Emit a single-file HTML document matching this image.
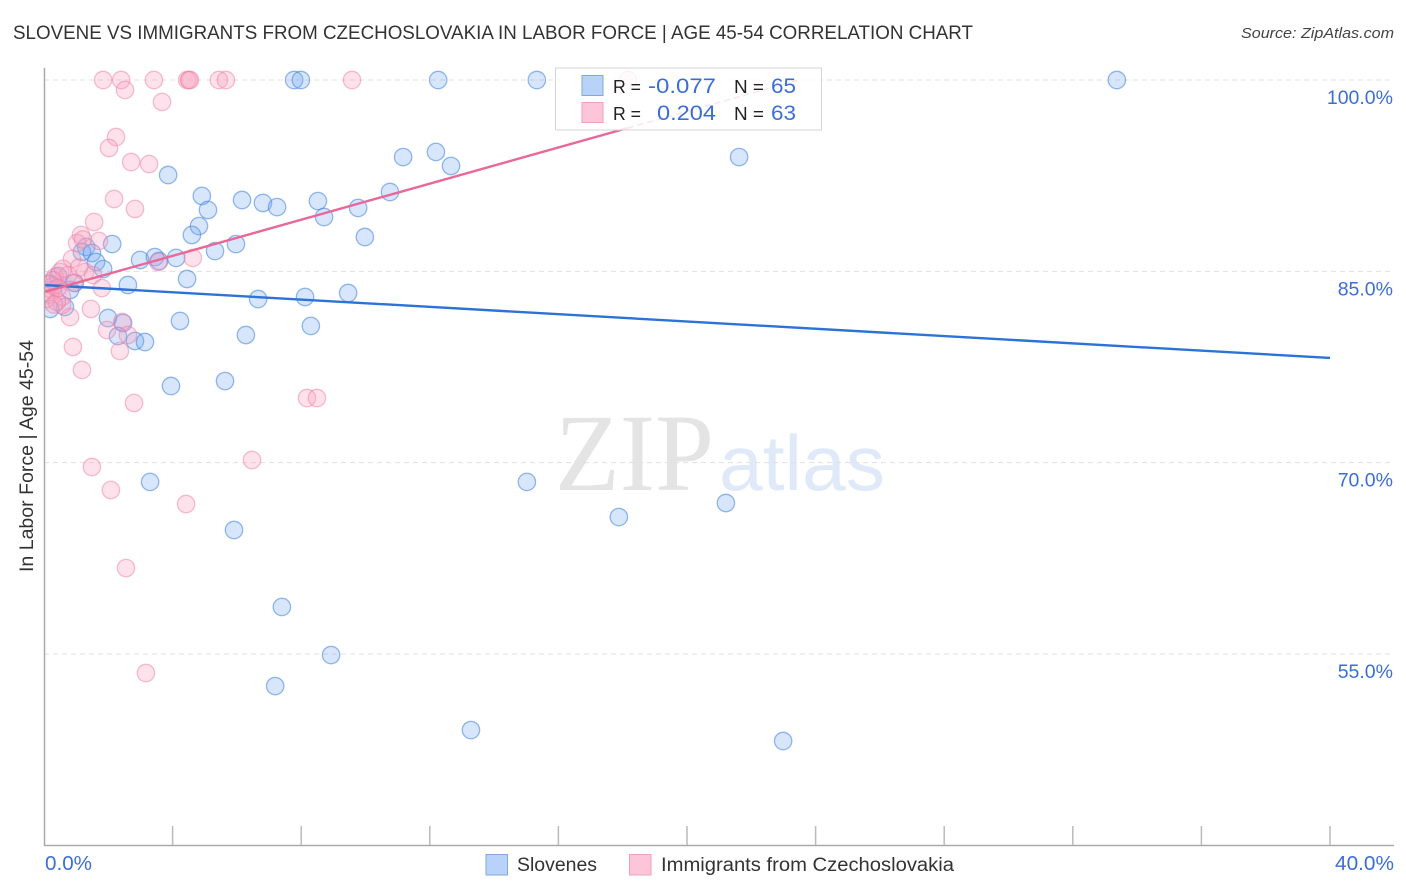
<!DOCTYPE html>
<html lang="en">
<head>
<meta charset="utf-8">
<title>Slovene vs Immigrants from Czechoslovakia in Labor Force | Age 45-54 Correlation Chart</title>
<style>
html,body{margin:0;padding:0;background:#fff;width:1406px;height:892px;overflow:hidden}
svg{display:block}
text{font-family:"Liberation Sans",sans-serif}
</style>
</head>
<body>
<svg id="chart" xmlns="http://www.w3.org/2000/svg" width="1406" height="892" viewBox="0 0 1406 892">
  <defs>
    <clipPath id="plot-clip"><rect x="44" y="60" width="1350" height="786"/></clipPath>
  </defs>
  <text x="13" y="39" font-size="19" fill="#333" textLength="960" lengthAdjust="spacingAndGlyphs">SLOVENE VS IMMIGRANTS FROM CZECHOSLOVAKIA IN LABOR FORCE | AGE 45-54 CORRELATION CHART</text>
  <text x="1241" y="38" font-size="15" font-style="italic" fill="#444" textLength="153" lengthAdjust="spacingAndGlyphs">Source: ZipAtlas.com</text>

  <g>
    <text x="555" y="490" font-size="110" fill="#e4e4e4" style="font-family:'Liberation Serif',serif" textLength="159" lengthAdjust="spacingAndGlyphs">ZIP</text>
    <text x="719" y="490" font-size="78" fill="#dfe9f8" textLength="166" lengthAdjust="spacingAndGlyphs">atlas</text>
  </g>

  <g id="grid"></g>
  <g id="points" clip-path="url(#plot-clip)"></g>
  <g id="lines" clip-path="url(#plot-clip)"></g>

  <line x1="44.5" y1="68" x2="44.5" y2="846" stroke="#aaa" stroke-width="1.5"/>
  <line x1="44" y1="845.5" x2="1394" y2="845.5" stroke="#aaa" stroke-width="1.5"/>
  <g id="xticks"></g>
  <g id="ylabels"></g>

  <text x="45" y="870" font-size="20" fill="#3b6fd4" textLength="47" lengthAdjust="spacingAndGlyphs">0.0%</text>
  <text x="1335" y="870" font-size="20" fill="#3b6fd4" textLength="59" lengthAdjust="spacingAndGlyphs">40.0%</text>
  <text transform="translate(33,572) rotate(-90)" x="0" y="0" font-size="19" fill="#333" textLength="232" lengthAdjust="spacingAndGlyphs">In Labor Force | Age 45-54</text>

  <g>
    <rect x="555.5" y="68" width="266" height="62" fill="#fff" fill-opacity="0.82" stroke="#d4d4d4" stroke-width="1"/>
    <rect x="582" y="75.5" width="21" height="20" fill="#b9d3f8" stroke="#7fa8e0" stroke-width="1"/>
    <rect x="582" y="102.5" width="21" height="20" fill="#fcc6d8" stroke="#eea0bb" stroke-width="1"/>
    <text x="613" y="93" font-size="18" fill="#222" textLength="28" lengthAdjust="spacingAndGlyphs">R =</text>
    <text x="648" y="93" font-size="21" fill="#3b6fd4" textLength="68" lengthAdjust="spacingAndGlyphs">-0.077</text>
    <text x="734" y="93" font-size="18" fill="#222" textLength="30" lengthAdjust="spacingAndGlyphs">N =</text>
    <text x="771" y="93" font-size="21" fill="#3b6fd4" textLength="25" lengthAdjust="spacingAndGlyphs">65</text>
    <text x="613" y="120" font-size="18" fill="#222" textLength="28" lengthAdjust="spacingAndGlyphs">R =</text>
    <text x="657" y="120" font-size="21" fill="#3b6fd4" textLength="59" lengthAdjust="spacingAndGlyphs">0.204</text>
    <text x="734" y="120" font-size="18" fill="#222" textLength="30" lengthAdjust="spacingAndGlyphs">N =</text>
    <text x="771" y="120" font-size="21" fill="#3b6fd4" textLength="25" lengthAdjust="spacingAndGlyphs">63</text>
  </g>

  <g>
    <rect x="486" y="854.5" width="21.5" height="20.5" fill="#b9d3f8" stroke="#7fa8e0" stroke-width="1"/>
    <text x="517" y="871" font-size="19" fill="#333" textLength="80" lengthAdjust="spacingAndGlyphs">Slovenes</text>
    <rect x="629.5" y="854.5" width="21.5" height="20.5" fill="#fcc6d8" stroke="#eea0bb" stroke-width="1"/>
    <text x="661" y="871" font-size="19" fill="#333" textLength="293" lengthAdjust="spacingAndGlyphs">Immigrants from Czechoslovakia</text>
  </g>
</svg>

<script>
// Axis ranges (percent)
const xDomain = [0, 40];
const yTicks = [100, 85, 70, 55];
const yTickLabels = ['100.0%', '85.0%', '70.0%', '55.0%'];
const xTicks = [4, 8, 12, 16, 20, 24, 28, 32, 36, 40];

// Slovenes: x = share of immigrants (%), y = in labor force (%)
const slovenesX = [7.78,7.99,12.26,15.33,33.37,12.19,11.17,12.66,21.62,3.86,10.76,4.91,6.16,6.81,7.25,8.52,5.10,9.77,8.71,4.82,4.60,9.98,5.97,2.12,1.31,1.18,1.49,1.62,1.84,5.32,2.99,3.45,3.58,4.11,4.45,2.61,0.96,0.81,6.66,8.12,9.46,8.30,4.23,1.99,2.46,6.28,2.30,2.83,3.14,3.95,5.63,3.30,15.02,17.88,21.21,5.91,7.40,8.93,7.19,13.28,22.99,0.65,0.19,0.44,0.19];
const slovenesY = [100,100,100,100,100,94.36,93.96,93.26,93.96,92.55,91.22,90.91,90.59,90.36,90.04,90.51,89.81,89.97,89.26,88.55,87.85,87.69,87.14,87.14,86.91,86.52,86.44,85.73,85.18,86.59,85.89,86.12,85.81,86.05,84.40,83.93,84.09,83.54,82.83,82.99,83.30,80.72,81.11,81.34,80.95,80.01,79.93,79.54,79.46,76.01,76.40,68.49,68.49,65.74,66.84,64.72,58.69,54.92,52.49,49.04,48.18,82.20,82.05,84.64,84.02];

// Immigrants from Czechoslovakia
const immigrantsX = [1.84,2.40,2.52,3.42,3.67,4.45,4.51,4.54,5.44,5.66,9.58,18.16,2.24,2.02,2.71,3.27,2.18,2.83,1.56,1.15,1.03,1.71,0.87,1.28,1.52,1.80,3.55,4.63,1.46,0.81,1.96,2.43,2.61,2.36,0.90,1.18,2.80,8.18,8.49,1.49,2.08,4.42,6.47,2.55,3.17,0.34,0.50,0.12,0.25,0.06,0.56,0.75,0.59,0.28,0.19,0.28,0.56,0.40,0.93,1.09,1.21,0.43,0.31];
const immigrantsY = [100,100,99.22,100,98.28,100,100,100,100,100,100,100,95.53,94.67,93.57,93.41,90.67,89.89,88.87,87.85,87.22,87.38,85.97,84.95,84.71,83.69,85.73,86.05,82.05,81.42,80.40,81.03,80.01,78.75,79.07,77.27,74.68,75.07,75.07,69.66,67.86,66.76,70.21,61.74,53.51,84.56,84.95,84.02,83.54,82.83,82.36,84.71,85.20,83.85,83.20,84.30,83.00,82.60,84.10,85.30,87.50,83.70,82.40];

// Trend lines: value at x=0, slope per x unit, last solid x, last dashed x
const slovenesTrend = [83.93, -0.143, 40];
const immigrantsTrend = [83.38, 0.708, 18.16, 23.47];

const NS = 'http://www.w3.org/2000/svg';
const xScale = v => 44 + (v - xDomain[0]) / (xDomain[1] - xDomain[0]) * 1286;
const yScale = v => 80 + (100 - v) * 12.756;

function node(tag, attrs, parent) {
  const el = document.createElementNS(NS, tag);
  for (const k in attrs) el.setAttribute(k, attrs[k]);
  parent.appendChild(el);
  return el;
}

const gridG = document.getElementById('grid');
const labelG = document.getElementById('ylabels');
yTicks.forEach((t, i) => {
  const ln = node('line', {x1: 44, x2: 1394, y1: yScale(t), y2: yScale(t), stroke: '#e0e0e0', 'stroke-width': 1, 'stroke-dasharray': '5 4'}, gridG);
  
  
  const tx = node('text', {x: 1393, y: yScale(t) + 24, 'font-size': 19.5, fill: '#3b6fd4', 'text-anchor': 'end'}, labelG);
  tx.textContent = yTickLabels[i];
  
  
});

const tickG = document.getElementById('xticks');
xTicks.forEach(t => {
  const ln = node('line', {x1: xScale(t), x2: xScale(t), y1: 826, y2: 845, stroke: '#bbb', 'stroke-width': 1.5}, tickG);
  
  
});

const pointG = document.getElementById('points');
slovenesX.forEach((x, i) => {
  const c = node('circle', {cx: xScale(x), cy: yScale(slovenesY[i]), r: 8.7, fill: 'rgba(110,165,240,.28)', stroke: 'rgba(70,135,225,.58)', 'stroke-width': 1.3}, pointG);
  
  
});
immigrantsX.forEach((x, i) => {
  const c = node('circle', {cx: xScale(x), cy: yScale(immigrantsY[i]), r: 8.7, fill: 'rgba(248,160,190,.3)', stroke: 'rgba(238,125,165,.5)', 'stroke-width': 1.3}, pointG);
  
  
});

const lineG = document.getElementById('lines');
const blueLine = node('line', {x1: xScale(0), y1: yScale(slovenesTrend[0]), x2: xScale(slovenesTrend[2]), y2: yScale(slovenesTrend[0] + slovenesTrend[1] * slovenesTrend[2]), stroke: '#2b73d6', 'stroke-width': 2.4}, lineG);


const pinkLine = node('line', {x1: xScale(0), y1: yScale(immigrantsTrend[0]), x2: xScale(immigrantsTrend[2]), y2: yScale(immigrantsTrend[0] + immigrantsTrend[1] * immigrantsTrend[2]), stroke: '#e8689a', 'stroke-width': 2.4}, lineG);


const pinkDash = node('line', {x1: xScale(immigrantsTrend[2]), y1: yScale(immigrantsTrend[0] + immigrantsTrend[1] * immigrantsTrend[2]), x2: xScale(immigrantsTrend[3]), y2: yScale(immigrantsTrend[0] + immigrantsTrend[1] * immigrantsTrend[3]), stroke: '#e8689a', 'stroke-width': 1.5, 'stroke-dasharray': '6 4'}, lineG);


</script>
</body>
</html>
